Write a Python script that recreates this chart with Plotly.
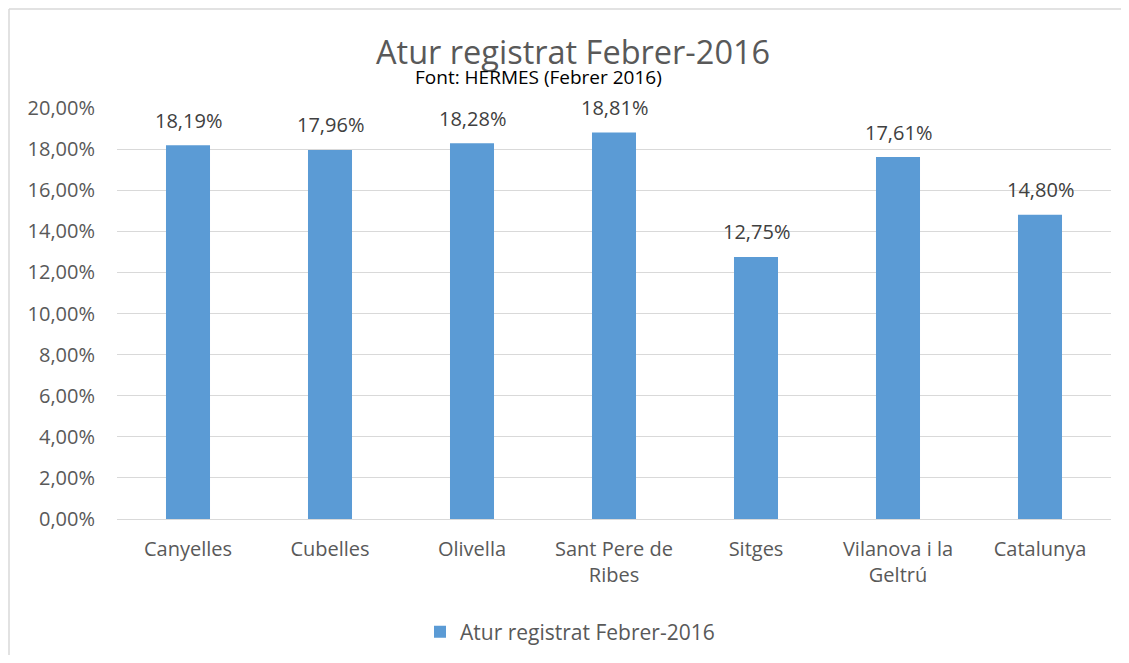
import plotly.graph_objects as go

categories = ["Canyelles", "Cubelles", "Olivella", "Sant Pere de<br>Ribes", "Sitges", "Vilanova i la<br>Geltrú", "Catalunya"]
values = [0.1819, 0.1796, 0.1828, 0.1881, 0.1275, 0.1761, 0.1480]
series_name = "Atur registrat Febrer-2016"
title_text = "Atur registrat Febrer-2016"
subtitle_text = "Font: HERMES (Febrer 2016)"

FONT = "Open Sans"
OFF = 8  # page body margin
W, H = 1129 - 2 * OFF, 663 - 2 * OFF
# desired plot area in screenshot pixels: x 117..1111, y 108..519
PL, PR, PT, PB = 117, 1111, 108, 519
pw, ph = PR - PL, PB - PT
L, T = PL - OFF, PT - OFF
R = W - L - pw
B = H - T - ph

def px(x):
    return (x - PL) / pw

def py(y):
    return (PB - y) / ph

fig = go.Figure(go.Bar(
    x=categories, y=values, name=series_name,
    marker=dict(color="#5B9BD5", line=dict(width=0)),
    cliponaxis=False, showlegend=True,
))

# data labels above bars
label_annotations = [
    dict(x=c, y=v, xref="x", yref="y", text=f"{v * 100:.2f}%".replace(".", ","),
         showarrow=False, yanchor="middle", xanchor="center", yshift=25,
         font=dict(family=FONT, size=20, color="#404040"))
    for c, v in zip(categories, values)
]

fig.update_layout(
    width=W, height=H, separators=",.",
    margin=dict(l=L, r=R, t=T, b=B, autoexpand=False),
    paper_bgcolor="white", plot_bgcolor="white",
    bargap=0.69,
    font=dict(family=FONT, color="#595959"),
    xaxis=dict(tickfont=dict(family=FONT, size=20, color="#595959"), showgrid=False,
               showline=False, ticks="", ticklabelstandoff=16, fixedrange=True),
    yaxis=dict(range=[0, 0.20], dtick=0.02, tickformat=".2%", showgrid=True,
               gridcolor="#D9D9D9", gridwidth=1, zeroline=True, zerolinecolor="#D9D9D9",
               zerolinewidth=1, tickfont=dict(family=FONT, size=20, color="#595959"),
               ticks="", ticklabelstandoff=21, fixedrange=True),
    legend=dict(orientation="h", x=px(420), xanchor="left", y=py(632), yanchor="middle",
                font=dict(family=FONT, size=21, color="#595959"), itemwidth=30,
                itemsizing="constant"),
    showlegend=True,
    annotations=[
        dict(text=title_text, x=px(573), y=py(51), xref="paper", yref="paper",
             showarrow=False, font=dict(family=FONT, size=32.5, color="#595959"),
             xanchor="center", yanchor="middle"),
        dict(text=subtitle_text, x=px(538), y=py(77), xref="paper", yref="paper",
             showarrow=False, font=dict(family=FONT, size=19, color="#000000"),
             xanchor="center", yanchor="middle"),
    ] + label_annotations,
    shapes=[
        dict(type="line", xref="paper", yref="paper", x0=px(9), x1=px(9), y0=py(9), y1=py(700),
             line=dict(color="#D9D9D9", width=1.5)),
        dict(type="line", xref="paper", yref="paper", x0=px(9), x1=px(1140), y0=py(9), y1=py(9),
             line=dict(color="#D9D9D9", width=1.5)),
    ],
)

fig.write_html("out.html")
